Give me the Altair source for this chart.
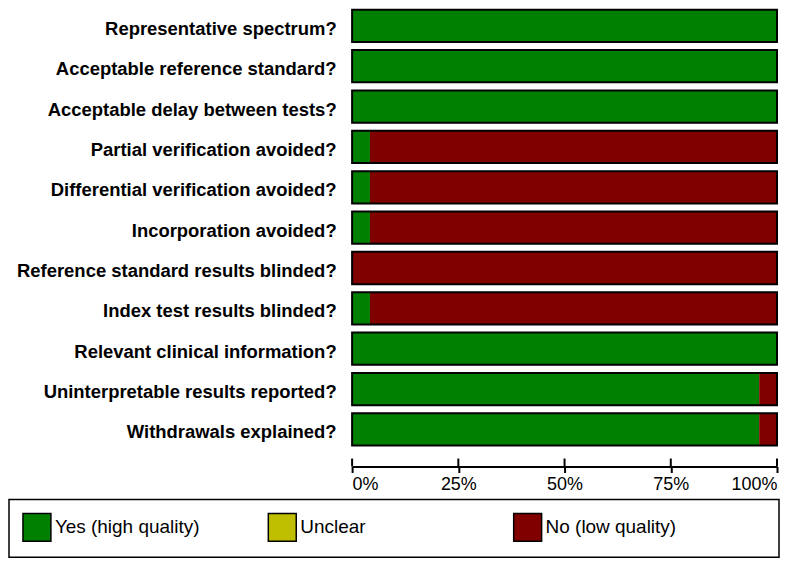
import altair as alt
import pandas as pd

questions = [
    "Representative spectrum?",
    "Acceptable reference standard?",
    "Acceptable delay between tests?",
    "Partial verification avoided?",
    "Differential verification avoided?",
    "Incorporation avoided?",
    "Reference standard results blinded?",
    "Index test results blinded?",
    "Relevant clinical information?",
    "Uninterpretable results reported?",
    "Withdrawals explained?",
]
yes_pct = [100, 100, 100, 4.2, 4.2, 4.2, 0, 4.2, 100, 95.8, 95.8]
unclear_pct = [0, 0, 0, 0, 0, 0, 0, 0, 0, 0, 0]
no_pct = [0, 0, 0, 95.8, 95.8, 95.8, 100, 95.8, 0, 4.2, 4.2]

ratings = ["Yes (high quality)", "Unclear", "No (low quality)"]
rating_colors = ["#008000", "#BFBF00", "#800000"]
tick_values = [0, 25, 50, 75, 100]

FONT = "Liberation Sans"
W = 426
H = 437
AX_OFF = 21

rows = []
for q, y, u, n in zip(questions, yes_pct, unclear_pct, no_pct):
    for k, (r, v) in enumerate(zip(ratings, [y, u, n])):
        rows.append({"question": q, "rating": r, "pct": v, "k": k})
df = pd.DataFrame(rows)

y_enc = alt.Y(
    "question:N",
    sort=questions,
    scale=alt.Scale(paddingInner=0.2, paddingOuter=0),
    axis=alt.Axis(
        title=None, ticks=False, domain=False, labelFont=FONT, labelFontSize=18.5,
        labelFontWeight="bold", labelColor="black", labelPadding=16, labelOffset=3,
        minExtent=344, labelLimit=0,
    ),
)
x_scale = alt.Scale(domain=[0, 100], nice=False)
x_axis = alt.Axis(
    title=None, values=tick_values, labelExpr="datum.value + '%'", offset=AX_OFF,
    tickSize=6, tickWidth=2, tickColor="black", domainColor="black", domainWidth=2,
    labelFont=FONT, labelFontSize=18, labelColor="black", labelFlush=True,
    labelPadding=3, grid=False,
)
legend = alt.Legend(
    orient="none", legendX=-344, legendY=H + 54, direction="horizontal", columns=3,
    gridAlign="all", columnPadding=65, padding=13,
    strokeColor="black", symbolType="square", symbolSize=784,
    symbolStrokeColor="black", symbolStrokeWidth=1.5, symbolOpacity=1,
    labelFont=FONT, labelFontSize=19, labelColor="black", labelOffset=3, labelLimit=0,
    title=" ", titleOrient="right", titlePadding=90, titleFontSize=10,
)
color_enc = alt.Color("rating:N", scale=alt.Scale(domain=ratings, range=rating_colors),
                      legend=legend)

bars = alt.Chart(df).mark_bar(strokeWidth=0).encode(
    y=y_enc,
    x=alt.X("pct:Q", stack="zero", scale=x_scale, axis=x_axis),
    color=color_enc,
    order=alt.Order("k:Q"),
)

outline = alt.Chart(df).transform_aggregate(
    total="sum(pct)", groupby=["question"]
).mark_bar(filled=False, color="black", strokeWidth=2).encode(
    y=y_enc,
    x=alt.X("total:Q", scale=x_scale, axis=x_axis),
)

ticks_up = alt.Chart(pd.DataFrame({"tick": tick_values})).mark_rule(
    color="black", strokeWidth=2
).encode(
    x=alt.X("tick:Q", scale=x_scale, axis=x_axis),
    y=alt.value(H + AX_OFF - 8),
    y2=alt.value(H + AX_OFF),
)

chart = alt.layer(bars, outline, ticks_up).properties(
    width=W, height=H, padding=0
).configure_view(strokeWidth=0).configure_legend(strokeWidth=1.5)

chart.save("out.html", embed_options={"renderer": "svg", "actions": False})
